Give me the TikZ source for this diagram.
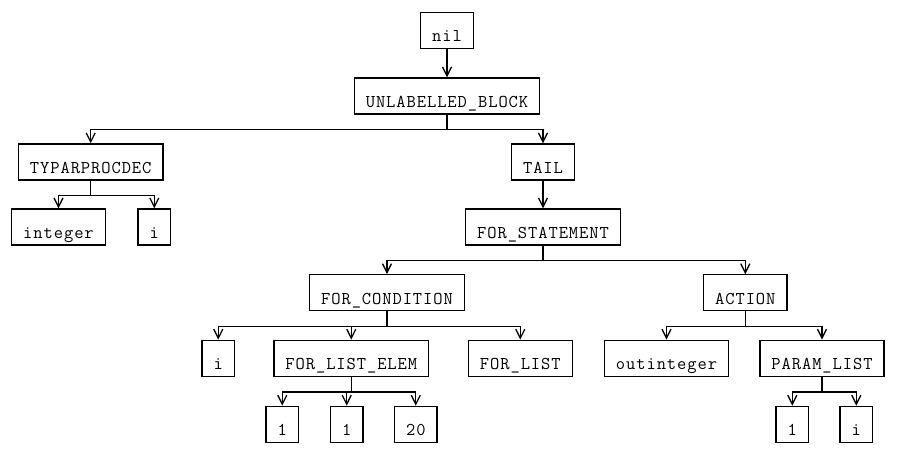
\documentclass[tikz,border=0pt]{standalone}
\usepackage{fontspec}
\setmonofont{Latin Modern Mono}[LetterSpace=5.2]
\usepackage{tikz}
\usetikzlibrary{arrows.meta}

\begin{document}
\begin{tikzpicture}[x=1pt,y=1pt,
  box/.style={draw,line width=1.35pt,inner xsep=11.6pt,inner ysep=0pt,
    text height=29.3pt,text depth=6.7pt,
    font=\ttfamily\fontsize{18}{20}\selectfont},
  link/.style={line width=1.35pt,-{Straight Barb[length=9pt,width=9pt,line width=1.3pt]}}]
\useasboundingbox (0,0) rectangle (905,-467);
\node[box] (nil) at (447,-30.3) {nil};
\node[box] (ublock) at (447,-96) {UNLABELLED\_BLOCK};
\node[box] (typar) at (90.7,-162) {TYPARPROCDEC};
\node[box] (tail) at (543,-162) {TAIL};
\node[box] (integer) at (58.5,-227) {integer};
\node[box] (ivar) at (154.3,-227) {i};
\node[box] (forstmt) at (543,-227) {FOR\_STATEMENT};
\node[box] (forcond) at (387,-292.8) {FOR\_CONDITION};
\node[box] (action) at (745.3,-292.8) {ACTION};
\node[box] (icond) at (218.3,-358.3) {i};
\node[box] (flelem) at (351.3,-358.3) {FOR\_LIST\_ELEM};
\node[box] (forlist) at (520.3,-358.3) {FOR\_LIST};
\node[box] (outint) at (666.5,-358.3) {outinteger};
\node[box] (params) at (822,-358.3) {PARAM\_LIST};
\node[box] (one) at (282.3,-424.3) {1};
\node[box] (onea) at (346.7,-424.3) {1};
\node[box] (twenty) at (415.8,-424.3) {20};
\node[box] (oneb) at (792.3,-424.3) {1};
\node[box] (iparam) at (856.3,-424.3) {i};
% edges
\draw[link] (nil.south) -- (ublock.north);
\draw[link] (ublock.south) -- ++(0,-15) -| (typar.north);
\draw[link] (ublock.south) -- ++(0,-15) -| (tail.north);
\draw[link] (typar.south) -- ++(0,-15) -| (integer.north);
\draw[link] (typar.south) -- ++(0,-15) -| (ivar.north);
\draw[link] (tail.south) -- (forstmt.north);
\draw[link] (forstmt.south) -- ++(0,-15) -| (forcond.north);
\draw[link] (forstmt.south) -- ++(0,-15) -| (action.north);
\draw[link] (forcond.south) -- ++(0,-15) -| (icond.north);
\draw[link] (forcond.south) -- ++(0,-15) -| (flelem.north);
\draw[link] (forcond.south) -- ++(0,-15) -| (forlist.north);
\draw[link] (action.south) -- ++(0,-15) -| (outint.north);
\draw[link] (action.south) -- ++(0,-15) -| (params.north);
\draw[link] (flelem.south) -- ++(0,-15) -| (one.north);
\draw[link] (flelem.south) -- ++(0,-15) -| (onea.north);
\draw[link] (flelem.south) -- ++(0,-15) -| (twenty.north);
\draw[link] (params.south) -- ++(0,-15) -| (oneb.north);
\draw[link] (params.south) -- ++(0,-15) -| (iparam.north);
\end{tikzpicture}
\end{document}
